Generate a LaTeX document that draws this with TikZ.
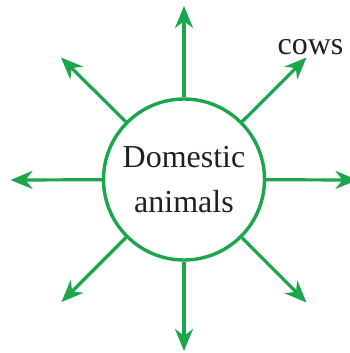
\documentclass[tikz,border=0pt]{standalone}
\usepackage{fontspec}
\setmainfont{Liberation Serif}
\usetikzlibrary{arrows.meta}
\definecolor{grn}{RGB}{27,166,78}
\definecolor{txt}{RGB}{35,31,32}
\begin{document}
\begin{tikzpicture}[x=1pt,y=-1pt,
  ray/.style={draw=grn,line width=3.2pt,-{Stealth[length=22pt,width=18pt,inset=7pt]}},
  hub/.style={circle,draw=grn,line width=3.4pt,minimum size=161pt,inner sep=0pt,
    align=center,font=\fontsize{32}{46.5}\selectfont,text=txt}]
\useasboundingbox (0,0) rectangle (350,353);
\node[hub] (c) at (184,179.5) {Domestic\\[-1pt]animals};
\coordinate (n) at (184,6);
\coordinate (s) at (184,351);
\coordinate (w) at (10.5,180);
\coordinate (e) at (357.5,180);
\coordinate (ne) at (306.5,57.5);
\coordinate (nw) at (61,57.5);
\coordinate (sw) at (61.5,302);
\coordinate (se) at (306.5,302.5);
\foreach \t in {n,s,w,e,ne,nw,sw,se} \draw[ray] (c) -- (\t);
\node[anchor=base,font=\fontsize{32}{38}\selectfont,text=txt,inner sep=0pt] (cows) at (310.5,54.5) {cows};
\end{tikzpicture}
\end{document}
